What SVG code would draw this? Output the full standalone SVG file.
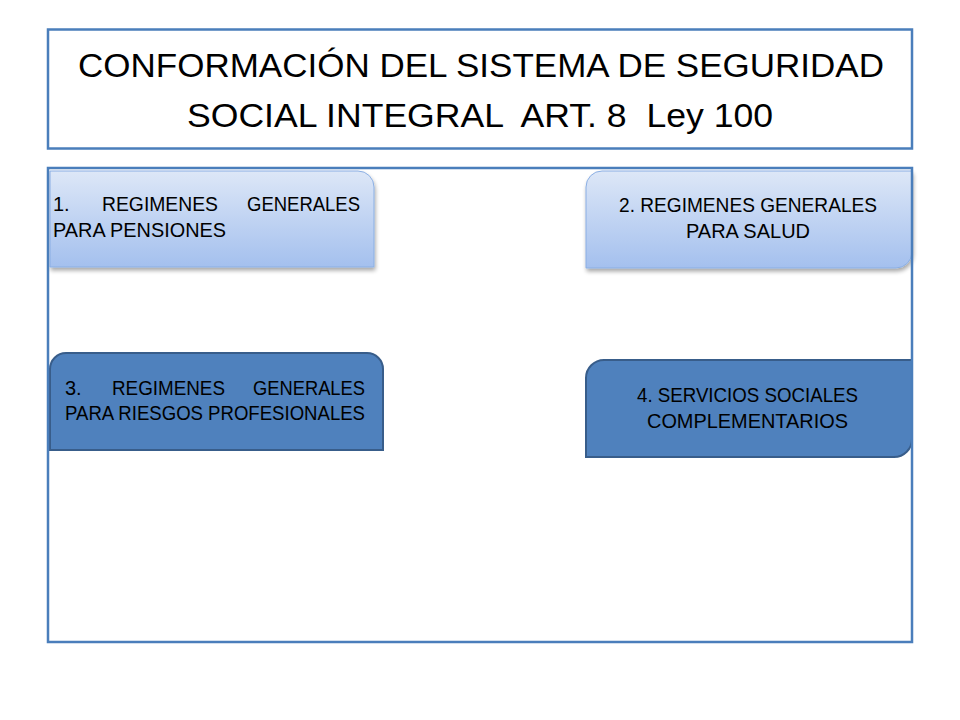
<svg xmlns="http://www.w3.org/2000/svg" width="960" height="720" viewBox="0 0 960 720">
  <defs>
    <linearGradient id="lightFill" x1="0" y1="0" x2="0" y2="1">
      <stop offset="0" stop-color="#dde7f7"/>
      <stop offset="1" stop-color="#a4c0ee"/>
    </linearGradient>
    <filter id="shadow" x="-5%" y="-5%" width="112%" height="125%">
      <feGaussianBlur in="SourceAlpha" stdDeviation="2"/>
      <feOffset dx="1" dy="3" result="b"/>
      <feComponentTransfer><feFuncA type="linear" slope="0.35"/></feComponentTransfer>
      <feMerge><feMergeNode/><feMergeNode in="SourceGraphic"/></feMerge>
    </filter>
  </defs>
  <style>
    .frame { fill: none; stroke: #4a7ebb; stroke-width: 2.5; }
    .light { fill: url(#lightFill); stroke: #8aaee3; stroke-width: 1; filter: url(#shadow); }
    .dark { fill: #4f81bd; stroke: #385d8a; stroke-width: 2; }
    .title { font-family: "Liberation Sans", Arial, sans-serif; font-size: 34px; fill: #000; white-space: pre; }
    .lbl { font-family: "Liberation Sans", Arial, sans-serif; font-size: 20px; fill: #000; }
  </style>
  <rect width="960" height="720" fill="#ffffff"/>

  <g id="title">
    <rect class="frame" x="48" y="29.5" width="864" height="119"/>
    <text class="title" x="78" y="77" textLength="806" lengthAdjust="spacingAndGlyphs">CONFORMACIÓN DEL SISTEMA DE SEGURIDAD</text>
    <text class="title" x="187" y="127" textLength="586" lengthAdjust="spacingAndGlyphs">SOCIAL INTEGRAL  ART. 8  Ley 100</text>
  </g>

  <g id="node1">
    <path class="light" d="M50,171 H358 A16,16 0 0 1 374,187 V267 H50 Z"/>
    <text class="lbl"><tspan x="53" y="210.5">1.</tspan><tspan x="102" y="210.5" textLength="116" lengthAdjust="spacingAndGlyphs">REGIMENES</tspan><tspan x="247" y="210.5" textLength="113" lengthAdjust="spacingAndGlyphs">GENERALES</tspan></text>
    <text class="lbl" x="53" y="236.5" textLength="173" lengthAdjust="spacingAndGlyphs">PARA PENSIONES</text>
  </g>

  <g id="node2">
    <path class="light" d="M602,171 H912 V252 A16,16 0 0 1 896,268 H586 V187 A16,16 0 0 1 602,171 Z"/>
    <text class="lbl" x="619" y="212" textLength="258" lengthAdjust="spacingAndGlyphs">2. REGIMENES GENERALES</text>
    <text class="lbl" x="686" y="238" textLength="124" lengthAdjust="spacingAndGlyphs">PARA SALUD</text>
  </g>

  <g id="node3">
    <path class="dark" d="M66,353 H367 A16,16 0 0 1 383,369 V450 H50 V369 A16,16 0 0 1 66,353 Z"/>
    <text class="lbl"><tspan x="65" y="395">3.</tspan><tspan x="112" y="395" textLength="113" lengthAdjust="spacingAndGlyphs">REGIMENES</tspan><tspan x="253" y="395" textLength="112" lengthAdjust="spacingAndGlyphs">GENERALES</tspan></text>
    <text class="lbl" x="65" y="420" textLength="300" lengthAdjust="spacingAndGlyphs">PARA RIESGOS PROFESIONALES</text>
  </g>

  <g id="node4">
    <path class="dark" d="M604,360 H912 V439 A18,18 0 0 1 894,457 H586 V378 A18,18 0 0 1 604,360 Z"/>
    <text class="lbl" x="637" y="402" textLength="221" lengthAdjust="spacingAndGlyphs">4. SERVICIOS SOCIALES</text>
    <text class="lbl" x="647" y="428" textLength="201" lengthAdjust="spacingAndGlyphs">COMPLEMENTARIOS</text>
  </g>

  <g id="connectors"></g>

  <g id="frame">
    <rect class="frame" x="48" y="168" width="864" height="474"/>
  </g>
</svg>
